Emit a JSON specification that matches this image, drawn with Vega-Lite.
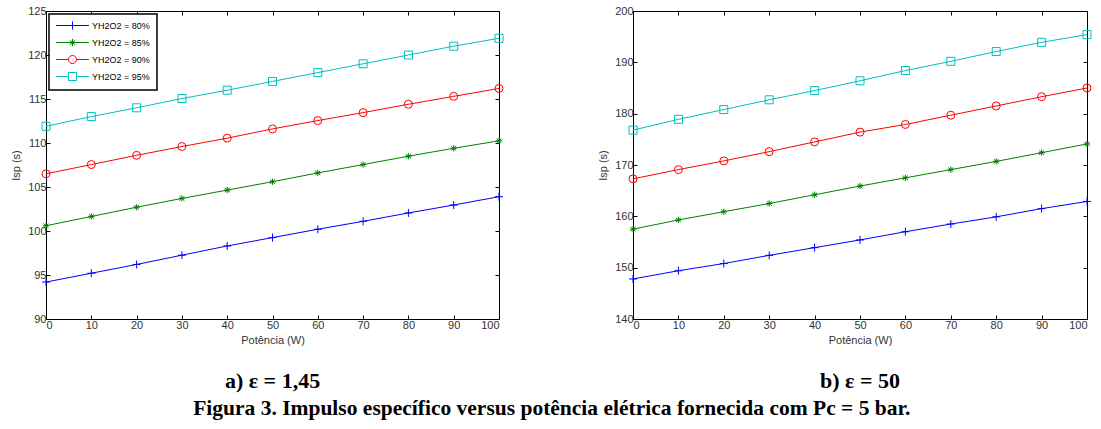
{
  "$schema": "https://vega.github.io/schema/vega-lite/v6.json",
  "background": "white",
  "padding": {"left": 10, "top": 5, "right": 0, "bottom": 5},
  "spacing": 92,
  "title": {"text": "Figura 3. Impulso específico versus potência elétrica fornecida com  Pc = 5 bar.", "orient": "bottom", "anchor": "middle", "font": "Liberation Serif", "fontSize": 21.5, "fontWeight": "bold", "color": "black", "offset": 6},
  "config": {
    "view": {"stroke": null},
    "axis": {"grid": false, "domainColor": "black", "domainWidth": 1, "tickColor": "black", "tickSize": -4, "labelFont": "Liberation Sans", "labelFontSize": 11, "labelColor": "#333", "labelPadding": 4, "titleFont": "Liberation Sans", "titleFontSize": 11, "titleFontWeight": "normal", "titleColor": "#333"},
    "legend": {"orient": "top-left", "offset": 3, "padding": 7, "strokeColor": "black", "fillColor": "white", "labelFont": "Liberation Sans", "labelFontSize": 9, "labelColor": "black", "symbolSize": 64, "symbolStrokeWidth": 1, "rowPadding": 4, "symbolOffset": 12, "labelOffset": 15}
  },
  "datasets": {
    "a": [
      {"p": 0, "s": "80%", "isp": 94.2}, {"p": 10, "s": "80%", "isp": 95.2}, {"p": 20, "s": "80%", "isp": 96.2}, {"p": 30, "s": "80%", "isp": 97.25}, {"p": 40, "s": "80%", "isp": 98.3}, {"p": 50, "s": "80%", "isp": 99.25}, {"p": 60, "s": "80%", "isp": 100.2}, {"p": 70, "s": "80%", "isp": 101.1}, {"p": 80, "s": "80%", "isp": 102.05}, {"p": 90, "s": "80%", "isp": 102.95}, {"p": 100, "s": "80%", "isp": 103.9},
      {"p": 0, "s": "85%", "isp": 100.6}, {"p": 10, "s": "85%", "isp": 101.65}, {"p": 20, "s": "85%", "isp": 102.7}, {"p": 30, "s": "85%", "isp": 103.7}, {"p": 40, "s": "85%", "isp": 104.65}, {"p": 50, "s": "85%", "isp": 105.6}, {"p": 60, "s": "85%", "isp": 106.6}, {"p": 70, "s": "85%", "isp": 107.55}, {"p": 80, "s": "85%", "isp": 108.5}, {"p": 90, "s": "85%", "isp": 109.4}, {"p": 100, "s": "85%", "isp": 110.25},
      {"p": 0, "s": "90%", "isp": 106.5}, {"p": 10, "s": "90%", "isp": 107.55}, {"p": 20, "s": "90%", "isp": 108.6}, {"p": 30, "s": "90%", "isp": 109.6}, {"p": 40, "s": "90%", "isp": 110.55}, {"p": 50, "s": "90%", "isp": 111.6}, {"p": 60, "s": "90%", "isp": 112.55}, {"p": 70, "s": "90%", "isp": 113.45}, {"p": 80, "s": "90%", "isp": 114.4}, {"p": 90, "s": "90%", "isp": 115.3}, {"p": 100, "s": "90%", "isp": 116.2},
      {"p": 0, "s": "95%", "isp": 111.9}, {"p": 10, "s": "95%", "isp": 113.0}, {"p": 20, "s": "95%", "isp": 114.0}, {"p": 30, "s": "95%", "isp": 115.05}, {"p": 40, "s": "95%", "isp": 116.0}, {"p": 50, "s": "95%", "isp": 117.0}, {"p": 60, "s": "95%", "isp": 118.0}, {"p": 70, "s": "95%", "isp": 119.0}, {"p": 80, "s": "95%", "isp": 120.0}, {"p": 90, "s": "95%", "isp": 121.0}, {"p": 100, "s": "95%", "isp": 121.9}
    ],
    "b": [
      {"p": 0, "s": "80%", "isp": 147.8}, {"p": 10, "s": "80%", "isp": 149.4}, {"p": 20, "s": "80%", "isp": 150.8}, {"p": 30, "s": "80%", "isp": 152.4}, {"p": 40, "s": "80%", "isp": 153.9}, {"p": 50, "s": "80%", "isp": 155.4}, {"p": 60, "s": "80%", "isp": 157.0}, {"p": 70, "s": "80%", "isp": 158.5}, {"p": 80, "s": "80%", "isp": 159.9}, {"p": 90, "s": "80%", "isp": 161.5}, {"p": 100, "s": "80%", "isp": 162.9},
      {"p": 0, "s": "85%", "isp": 157.5}, {"p": 10, "s": "85%", "isp": 159.3}, {"p": 20, "s": "85%", "isp": 160.9}, {"p": 30, "s": "85%", "isp": 162.5}, {"p": 40, "s": "85%", "isp": 164.2}, {"p": 50, "s": "85%", "isp": 165.9}, {"p": 60, "s": "85%", "isp": 167.5}, {"p": 70, "s": "85%", "isp": 169.1}, {"p": 80, "s": "85%", "isp": 170.7}, {"p": 90, "s": "85%", "isp": 172.4}, {"p": 100, "s": "85%", "isp": 174.1},
      {"p": 0, "s": "90%", "isp": 167.3}, {"p": 10, "s": "90%", "isp": 169.1}, {"p": 20, "s": "90%", "isp": 170.8}, {"p": 30, "s": "90%", "isp": 172.6}, {"p": 40, "s": "90%", "isp": 174.5}, {"p": 50, "s": "90%", "isp": 176.4}, {"p": 60, "s": "90%", "isp": 177.9}, {"p": 70, "s": "90%", "isp": 179.7}, {"p": 80, "s": "90%", "isp": 181.5}, {"p": 90, "s": "90%", "isp": 183.3}, {"p": 100, "s": "90%", "isp": 185.0},
      {"p": 0, "s": "95%", "isp": 176.8}, {"p": 10, "s": "95%", "isp": 178.9}, {"p": 20, "s": "95%", "isp": 180.8}, {"p": 30, "s": "95%", "isp": 182.7}, {"p": 40, "s": "95%", "isp": 184.5}, {"p": 50, "s": "95%", "isp": 186.4}, {"p": 60, "s": "95%", "isp": 188.4}, {"p": 70, "s": "95%", "isp": 190.2}, {"p": 80, "s": "95%", "isp": 192.1}, {"p": 90, "s": "95%", "isp": 193.9}, {"p": 100, "s": "95%", "isp": 195.4}
    ]
  },
  "hconcat": [
    {
      "width": 453, "height": 308,
      "data": {"name": "a"},
      "title": {"text": "a) ε = 1,45", "orient": "bottom", "anchor": "middle", "font": "Liberation Serif", "fontSize": 22, "fontWeight": "bold", "color": "black", "offset": 26},
      "layer": [
        {"mark": {"type": "line", "strokeWidth": 1},
         "encoding": {
          "x": {"field": "p", "type": "quantitative", "scale": {"domain": [0, 100], "nice": false}, "axis": {"values": [0,10,20,30,40,50,60,70,80,90,100], "title": "Potência (W)", "titlePadding": 4}},
          "y": {"field": "isp", "type": "quantitative", "scale": {"domain": [90, 125], "nice": false, "zero": false}, "axis": {"values": [90,95,100,105,110,115,120,125], "title": "Isp (s)", "titlePadding": 6}},
          "color": {"field": "s", "type": "nominal", "scale": {"domain": ["80%","85%","90%","95%"], "range": ["#0000ff", "#008000", "#ff0000", "#00bfbf"]},
            "legend": {"title": null, "labelExpr": "'YH2O2 = ' + datum.label",
              "encode": {"legend": {"update": {"strokeWidth": {"value": 1.5}}},
                "symbols": {"update": {"fill": {"value": "transparent"}, "shape": {"signal": "datum.value == '80%' ? 'M-4.1,0L4.1,0M0,-1L0,1' : datum.value == '85%' ? 'M-4.1,0L4.1,0M0,-0.9L0,0.9M-0.7,-0.6L0.7,0.6M-0.7,0.6L0.7,-0.6' : datum.value == '90%' ? 'M-4.1,0L-1,0M1,0L4.1,0M-1,0A1,1,0,1,1,1,0A1,1,0,1,1,-1,0' : 'M-4.1,0L-1,0M1,0L4.1,0M-1,-1L1,-1L1,1L-1,1Z'"}}}}}}
         }},
        {"transform": [{"filter": "datum.s == '80%'"}], "mark": {"type": "point", "shape": "M-1,0L1,0M0,-1L0,1", "filled": false, "size": 64, "strokeWidth": 1, "opacity": 1},
         "encoding": {"x": {"field": "p", "type": "quantitative", "axis": null}, "y": {"field": "isp", "type": "quantitative", "axis": null}, "color": {"field": "s", "type": "nominal"}}},
        {"transform": [{"filter": "datum.s == '85%'"}], "mark": {"type": "point", "shape": "M-0.9,0L0.9,0M0,-0.9L0,0.9M-0.7,-0.6L0.7,0.6M-0.7,0.6L0.7,-0.6", "filled": false, "size": 49, "strokeWidth": 1, "opacity": 1},
         "encoding": {"x": {"field": "p", "type": "quantitative", "axis": null}, "y": {"field": "isp", "type": "quantitative", "axis": null}, "color": {"field": "s", "type": "nominal"}}},
        {"transform": [{"filter": "datum.s == '90%'"}], "mark": {"type": "point", "shape": "circle", "filled": false, "size": 64, "strokeWidth": 1, "opacity": 1},
         "encoding": {"x": {"field": "p", "type": "quantitative", "axis": null}, "y": {"field": "isp", "type": "quantitative", "axis": null}, "color": {"field": "s", "type": "nominal"}}},
        {"transform": [{"filter": "datum.s == '95%'"}], "mark": {"type": "point", "shape": "square", "filled": false, "size": 64, "strokeWidth": 1, "opacity": 1},
         "encoding": {"x": {"field": "p", "type": "quantitative", "axis": null}, "y": {"field": "isp", "type": "quantitative", "axis": null}, "color": {"field": "s", "type": "nominal"}}},
        {"mark": {"type": "rule", "opacity": 0}, "encoding": {
          "x": {"field": "p", "type": "quantitative", "axis": {"orient": "top", "values": [0,10,20,30,40,50,60,70,80,90,100], "labels": false, "title": null}},
          "y": {"field": "isp", "type": "quantitative", "axis": {"orient": "right", "values": [90,95,100,105,110,115,120,125], "labels": false, "title": null}}}}
      ],
      "resolve": {"axis": {"x": "independent", "y": "independent"}}
    },
    {
      "width": 454, "height": 308,
      "data": {"name": "b"},
      "title": {"text": "b) ε = 50", "orient": "bottom", "anchor": "middle", "font": "Liberation Serif", "fontSize": 22, "fontWeight": "bold", "color": "black", "offset": 26},
      "layer": [
        {"mark": {"type": "line", "strokeWidth": 1},
         "encoding": {
          "x": {"field": "p", "type": "quantitative", "scale": {"domain": [0, 100], "nice": false}, "axis": {"values": [0,10,20,30,40,50,60,70,80,90,100], "title": "Potência (W)", "titlePadding": 4}},
          "y": {"field": "isp", "type": "quantitative", "scale": {"domain": [140, 200], "nice": false, "zero": false}, "axis": {"values": [140,150,160,170,180,190,200], "title": "Isp (s)", "titlePadding": 6}},
          "color": {"field": "s", "type": "nominal", "scale": {"domain": ["80%","85%","90%","95%"], "range": ["#0000ff", "#008000", "#ff0000", "#00bfbf"]},
            "legend": {"title": null, "labelExpr": "'YH2O2 = ' + datum.label",
              "encode": {"legend": {"update": {"strokeWidth": {"value": 1.5}}},
                "symbols": {"update": {"fill": {"value": "transparent"}, "shape": {"signal": "datum.value == '80%' ? 'M-4.1,0L4.1,0M0,-1L0,1' : datum.value == '85%' ? 'M-4.1,0L4.1,0M0,-0.9L0,0.9M-0.7,-0.6L0.7,0.6M-0.7,0.6L0.7,-0.6' : datum.value == '90%' ? 'M-4.1,0L-1,0M1,0L4.1,0M-1,0A1,1,0,1,1,1,0A1,1,0,1,1,-1,0' : 'M-4.1,0L-1,0M1,0L4.1,0M-1,-1L1,-1L1,1L-1,1Z'"}}}}}}
         }},
        {"transform": [{"filter": "datum.s == '80%'"}], "mark": {"type": "point", "shape": "M-1,0L1,0M0,-1L0,1", "filled": false, "size": 64, "strokeWidth": 1, "opacity": 1},
         "encoding": {"x": {"field": "p", "type": "quantitative", "axis": null}, "y": {"field": "isp", "type": "quantitative", "axis": null}, "color": {"field": "s", "type": "nominal"}}},
        {"transform": [{"filter": "datum.s == '85%'"}], "mark": {"type": "point", "shape": "M-0.9,0L0.9,0M0,-0.9L0,0.9M-0.7,-0.6L0.7,0.6M-0.7,0.6L0.7,-0.6", "filled": false, "size": 49, "strokeWidth": 1, "opacity": 1},
         "encoding": {"x": {"field": "p", "type": "quantitative", "axis": null}, "y": {"field": "isp", "type": "quantitative", "axis": null}, "color": {"field": "s", "type": "nominal"}}},
        {"transform": [{"filter": "datum.s == '90%'"}], "mark": {"type": "point", "shape": "circle", "filled": false, "size": 64, "strokeWidth": 1, "opacity": 1},
         "encoding": {"x": {"field": "p", "type": "quantitative", "axis": null}, "y": {"field": "isp", "type": "quantitative", "axis": null}, "color": {"field": "s", "type": "nominal"}}},
        {"transform": [{"filter": "datum.s == '95%'"}], "mark": {"type": "point", "shape": "square", "filled": false, "size": 64, "strokeWidth": 1, "opacity": 1},
         "encoding": {"x": {"field": "p", "type": "quantitative", "axis": null}, "y": {"field": "isp", "type": "quantitative", "axis": null}, "color": {"field": "s", "type": "nominal"}}},
        {"mark": {"type": "rule", "opacity": 0}, "encoding": {
          "x": {"field": "p", "type": "quantitative", "axis": {"orient": "top", "values": [0,10,20,30,40,50,60,70,80,90,100], "labels": false, "title": null}},
          "y": {"field": "isp", "type": "quantitative", "axis": {"orient": "right", "values": [140,150,160,170,180,190,200], "labels": false, "title": null}}}}
      ],
      "resolve": {"axis": {"x": "independent", "y": "independent"}}
    }
  ]
}
